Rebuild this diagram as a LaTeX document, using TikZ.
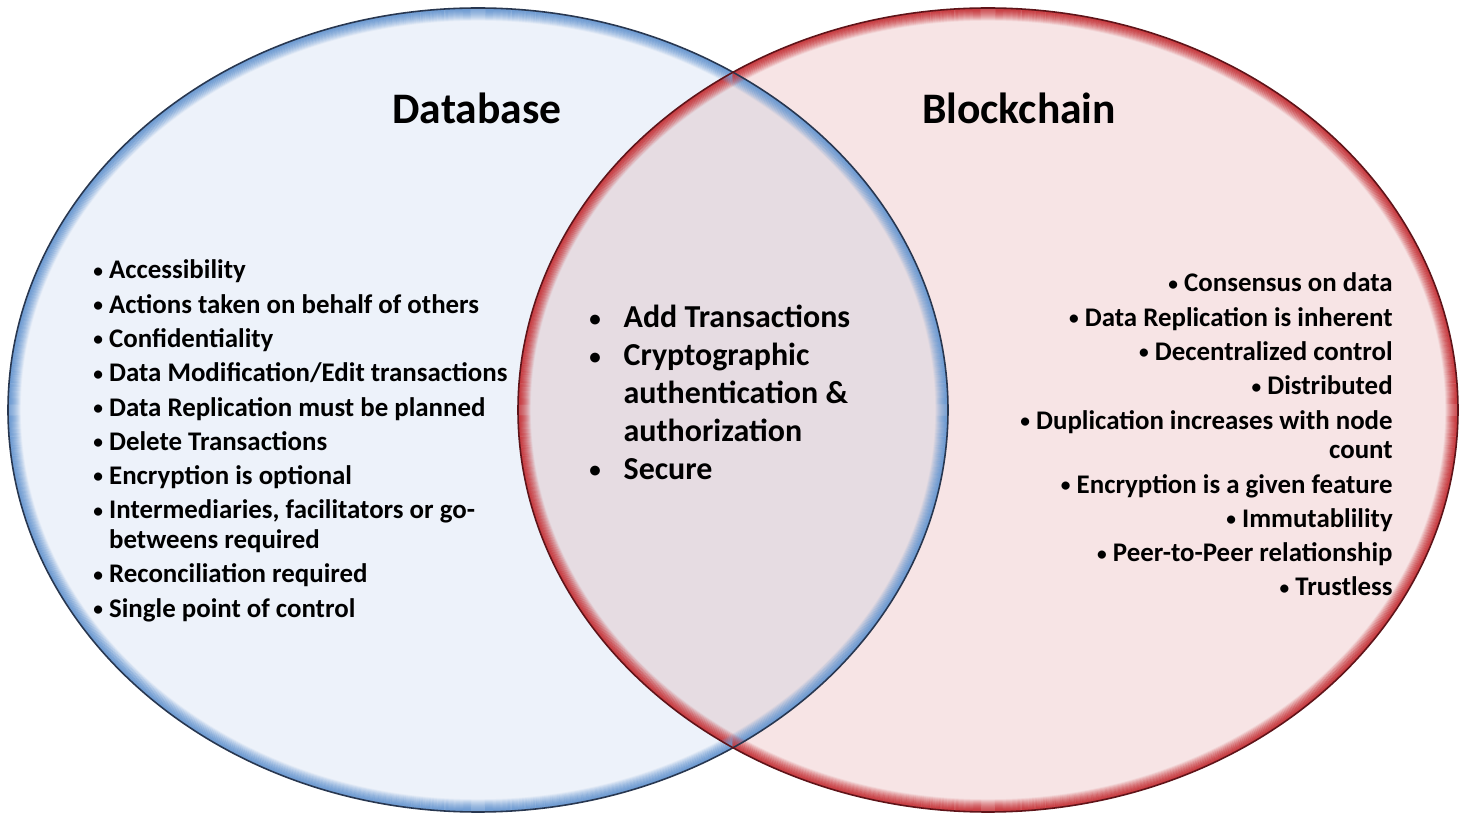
\documentclass[tikz,border=0pt]{standalone}
\usepackage{fontspec}
\usepackage{graphicx}
\setmainfont{Carlito}
\usetikzlibrary{positioning}

\definecolor{dbfill}{RGB}{237,242,250}
\definecolor{bcfill}{RGB}{247,228,229}
\definecolor{mixfill}{RGB}{230,220,226}
\definecolor{dbrim}{RGB}{110,155,210}
\definecolor{bcrim}{RGB}{200,60,65}
\definecolor{dbedge}{RGB}{40,55,80}
\definecolor{bcedge}{RGB}{95,20,25}

\newcommand{\bul}{\raisebox{0.12ex}{\scalebox{0.72}{\textbullet}}}

\begin{document}
\begin{tikzpicture}[
  x=0.02cm, y=-0.02cm,
  title/.style={font=\fontsize{24.8}{28}\selectfont\bfseries},
  sidelist/.style={font=\fontsize{15.3}{17}\selectfont\bfseries, inner sep=0pt},
  midlist/.style={font=\fontsize{18.2}{21.6}\selectfont\bfseries, inner sep=0pt}
]
\useasboundingbox (0,0) rectangle (1465,820);

% Fills
\fill[dbfill] (478,410) ellipse [x radius=470, y radius=402];
\fill[bcfill] (988,410) ellipse [x radius=470, y radius=402];
\begin{scope}
  \clip (478,410) ellipse [x radius=470, y radius=402];
  \fill[mixfill] (988,410) ellipse [x radius=470, y radius=402];
\end{scope}

% Bevelled rims
\foreach \k in {0,...,11} {
  \pgfmathsetmacro{\rx}{469-\k}
  \pgfmathsetmacro{\ry}{401-\k}
  \pgfmathsetmacro{\op}{1-\k/12}
  \draw[dbrim, line width=0.8pt, draw opacity=\op] (478,410) ellipse [x radius=\rx, y radius=\ry];
  \draw[bcrim, line width=0.8pt, draw opacity=\op] (988,410) ellipse [x radius=\rx, y radius=\ry];
}
\draw[dbedge, line width=0.9pt] (478,410) ellipse [x radius=470, y radius=402];
\draw[bcedge, line width=0.9pt] (988,410) ellipse [x radius=470, y radius=402];

% Titles
\node[title] (dbtitle) at (477,108) {Database};
\node[title] (bctitle) at (1019,108) {Blockchain};

% Database list
\node[sidelist, anchor=base west] (dblist) at (93,279) {%
\begin{tabular}[t]{@{}l@{\hspace{3.5pt}}l@{}}
\bul & Accessibility\\[2.5pt]
\bul & Actions taken on behalf of others\\[2.5pt]
\bul & Confidentiality\\[2.5pt]
\bul & Data Modification/Edit transactions\\[2.5pt]
\bul & Data Replication must be planned\\[2.5pt]
\bul & Delete Transactions\\[2.5pt]
\bul & Encryption is optional\\[2.5pt]
\bul & Intermediaries, facilitators or go-\\
     & betweens required\\[2.5pt]
\bul & Reconciliation required\\[2.5pt]
\bul & Single point of control
\end{tabular}};

% Blockchain list
\node[sidelist, anchor=base east] (bclist) at (1393,292) {%
\begin{tabular}[t]{@{}r@{}}
\bul\hspace{3.5pt}Consensus on data\\[2.5pt]
\bul\hspace{3.5pt}Data Replication is inherent\\[2.5pt]
\bul\hspace{3.5pt}Decentralized control\\[2.5pt]
\bul\hspace{3.5pt}Distributed\\[2.5pt]
\bul\hspace{3.5pt}Duplication increases with node\\
count\\[2.5pt]
\bul\hspace{3.5pt}Encryption is a given feature\\[2.5pt]
\bul\hspace{3.5pt}Immutablility\\[2.5pt]
\bul\hspace{3.5pt}Peer-to-Peer relationship\\[2.5pt]
\bul\hspace{3.5pt}Trustless
\end{tabular}};

% Shared list
\node[midlist, anchor=base west] (midlist) at (589,328) {%
\begin{tabular}[t]{@{}l@{\hspace{13pt}}l@{}}
\bul & Add Transactions\\
\bul & Cryptographic\\
     & authentication \&\\
     & authorization\\
\bul & Secure
\end{tabular}};

\end{tikzpicture}
\end{document}
